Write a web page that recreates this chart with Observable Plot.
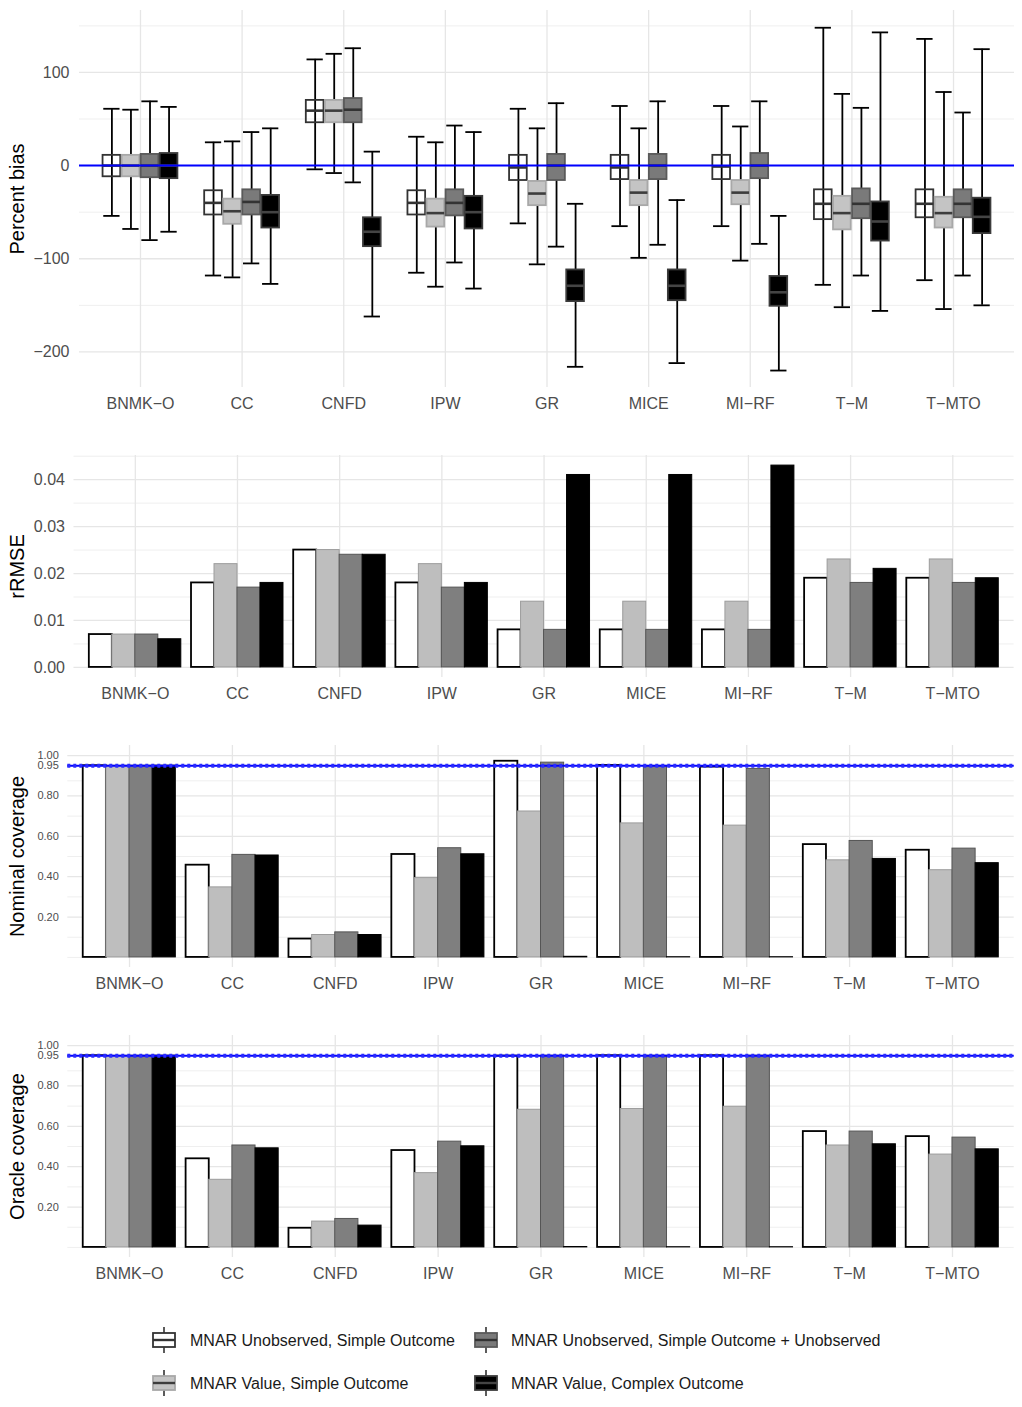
<!DOCTYPE html>
<html><head><meta charset="utf-8">
<script src="https://cdn.jsdelivr.net/npm/d3@7"></script>
<script src="https://cdn.jsdelivr.net/npm/@observablehq/plot@0.6"></script>
<style>
body{margin:0;background:#fff;font-family:"Liberation Sans",Arial,sans-serif}
#chart{width:1022px}
#chart svg{display:block}
</style></head><body><div id="chart"></div>
<script>
// ---------- data ----------
const methods = ["BNMK−O","CC","CNFD","IPW","GR","MICE","MI−RF","T−M","T−MTO"];
const scenarios = [
  "MNAR Unobserved, Simple Outcome",
  "MNAR Value, Simple Outcome",
  "MNAR Unobserved, Simple Outcome + Unobserved",
  "MNAR Value, Complex Outcome"
];
// percent bias boxplot statistics, one row per method, one value per scenario
const biasWhiskerHigh = [[61,60,69,63],[25,26,36,40],[114,120,126,15],[31,25,43,36],[61,40,67,-41],[64,40,69,-37],[64,42,69,-54],[148,77,62,143],[136,79,57,125]];
const biasQ3 = [[11,11,12,13],[-27,-36,-26,-32],[70,70,72,-56],[-27,-36,-26,-33],[11,-17,12,-112],[11,-16,12,-112],[11,-16,13,-119],[-26,-33,-25,-39],[-26,-34,-26,-35]];
const biasMedian = [[0,0,0,0],[-40,-49,-39,-50],[59,59,60,-71],[-40,-51,-40,-50],[-2,-30,0,-129],[-2,-29,0,-129],[-1,-29,0,-136],[-41,-51,-41,-60],[-41,-51,-41,-55]];
const biasQ1 = [[-12,-12,-13,-14],[-53,-63,-53,-67],[46,46,46,-87],[-53,-66,-54,-68],[-16,-43,-16,-146],[-15,-43,-15,-145],[-15,-42,-14,-151],[-58,-69,-57,-81],[-56,-67,-56,-73]];
const biasWhiskerLow = [[-54,-68,-80,-71],[-118,-120,-105,-127],[-4,-8,-18,-162],[-115,-130,-104,-132],[-62,-106,-87,-216],[-65,-99,-85,-212],[-65,-102,-84,-220],[-128,-152,-118,-156],[-123,-154,-118,-150]];
const rrmse = [[0.007,0.007,0.007,0.006],[0.018,0.022,0.017,0.018],[0.025,0.025,0.024,0.024],[0.018,0.022,0.017,0.018],[0.008,0.014,0.008,0.041],[0.008,0.014,0.008,0.041],[0.008,0.014,0.008,0.043],[0.019,0.023,0.018,0.021],[0.019,0.023,0.018,0.019]];
const nominalCoverage = [[0.95,0.95,0.95,0.95],[0.457,0.347,0.508,0.505],[0.091,0.111,0.124,0.111],[0.51,0.393,0.541,0.511],[0.972,0.723,0.965,0.003],[0.951,0.664,0.949,0.001],[0.943,0.653,0.934,0.001],[0.559,0.481,0.577,0.488],[0.531,0.432,0.539,0.467]];
const oracleCoverage = [[0.95,0.95,0.95,0.95],[0.439,0.335,0.505,0.491],[0.095,0.128,0.141,0.108],[0.48,0.368,0.524,0.501],[0.948,0.682,0.95,0.002],[0.95,0.686,0.95,0.001],[0.95,0.697,0.95,0.001],[0.574,0.505,0.574,0.511],[0.549,0.46,0.544,0.486]];
// tick values
const biasTicks = [-200,-100,0,100];
const biasMinor = [-150,-50,50,150];
const rmseTicks = [0,0.01,0.02,0.03,0.04];
const rmseMinor = [0.005,0.015,0.025,0.035,0.045];
const covTicks = [0.2,0.4,0.6,0.8,0.95,1.0];
const covMinor = [0,0.1,0.3,0.5,0.7,0.875];
const covTarget = [0.95];

// ---------- styles ----------
const boxFill   = ["none","#c4c4c4","#7a7a7a","#000000"];
const boxStroke = ["#333333","#a8a8a8","#5a5a5a","#3c3c3c"];
const medStroke = ["#333333","#3d3d3d","#333333","#444444"];
const barFill   = ["#ffffff","#bebebe","#7f7f7f","#000000"];
const barStroke = ["#000000","#9c9c9c","#555555","#000000"];
const barStrokeW = [1.8,1,1,1];
const FONT = "Liberation Sans, Arial, Helvetica, sans-serif";

// ---------- table ----------
const rows = [];
methods.forEach((m, i) => scenarios.forEach((s, j) => {
  const boxC = i - 0.375 + (j + 0.5) * 0.1875;   // dodge width 0.75
  const barL = i - 0.45 + j * 0.225;             // dodge width 0.9
  rows.push({
    method: m, i, scenario: s, j,
    boxC, boxL: boxC - 0.087, boxR: boxC + 0.087, capL: boxC - 0.08, capR: boxC + 0.08,
    barL, barR: barL + 0.225,
    hi: biasWhiskerHigh[i][j], q3: biasQ3[i][j], med: biasMedian[i][j], q1: biasQ1[i][j], lo: biasWhiskerLow[i][j],
    rmse: rrmse[i][j], nominal: nominalCoverage[i][j], oracle: oracleCoverage[i][j]
  });
}));
const idx = methods.map((m, i) => i);

const gridMarks = (major, minor) => [
  Plot.ruleY(minor, {stroke: "#efefef", strokeWidth: 1}),
  Plot.ruleY(major, {stroke: "#e6e6e6", strokeWidth: 1.3}),
  Plot.ruleX(idx, {stroke: "#e6e6e6", strokeWidth: 1.3})
];
const xAxis = () => Plot.axisX({ticks: idx, tickFormat: i => methods[i], tickSize: 0, tickPadding: 10, fontSize: 16, label: null});
const yTitle = (t, off) => Plot.text([t], {frameAnchor: "left", rotate: -90, dx: -off, fontSize: 20, fill: "#000", textAnchor: "middle", lineAnchor: "middle"});
const baseStyle = {fontFamily: FONT, fontSize: "16px", color: "#4d4d4d", background: "white", overflow: "visible"};

const chart = document.getElementById("chart");

// ---------- panel 1 : percent bias ----------
chart.appendChild(Plot.plot({
  width: 1022, height: 420,
  marginTop: 10, marginBottom: 33, marginLeft: 79, marginRight: 8,
  style: baseStyle,
  color: {type: "identity"},
  x: {domain: [-0.6, 8.6], label: null},
  y: {domain: [-238.2, 166.5], label: null},
  marks: [
    ...gridMarks(biasTicks, biasMinor),
    Plot.ruleX(rows, {x: "boxC", y1: "lo", y2: "hi", stroke: "#000", strokeWidth: 1.8}),
    Plot.ruleY(rows, {x1: "capL", x2: "capR", y: "hi", stroke: "#000", strokeWidth: 1.8}),
    Plot.ruleY(rows, {x1: "capL", x2: "capR", y: "lo", stroke: "#000", strokeWidth: 1.8}),
    Plot.rect(rows, {x1: "boxL", x2: "boxR", y1: "q1", y2: "q3", fill: d => boxFill[d.j], stroke: d => boxStroke[d.j], strokeWidth: 1.8}),
    Plot.ruleY(rows, {x1: "boxL", x2: "boxR", y: "med", stroke: d => medStroke[d.j], strokeWidth: 2.6}),
    Plot.ruleY([0], {stroke: "#0000ff", strokeWidth: 2}),
    Plot.axisY({ticks: biasTicks, tickFormat: d3.format("d"), tickSize: 0, tickPadding: 10, fontSize: 16, label: null}),
    xAxis(),
    yTitle("Percent bias", 62)
  ]
}));

// ---------- panel 2 : rRMSE ----------
chart.appendChild(Plot.plot({
  width: 1022, height: 290,
  marginTop: 35, marginBottom: 33, marginLeft: 73.5, marginRight: 8.4,
  style: baseStyle,
  color: {type: "identity"},
  x: {domain: [-0.6, 8.6], label: null},
  y: {domain: [-0.00215, 0.04515], label: null},
  marks: [
    ...gridMarks(rmseTicks, rmseMinor),
    Plot.rect(rows, {x1: "barL", x2: "barR", y1: 0, y2: "rmse", fill: d => barFill[d.j], stroke: d => barStroke[d.j], strokeWidth: d => barStrokeW[d.j]}),
    Plot.axisY({ticks: rmseTicks, tickFormat: d3.format(".2f"), tickSize: 0, tickPadding: 9, fontSize: 16, label: null}),
    xAxis(),
    yTitle("rRMSE", 56.5)
  ]
}));

// ---------- panels 3 & 4 : coverage ----------
function coveragePanel(field, title) {
  return Plot.plot({
    width: 1022, height: 290,
    marginTop: 35, marginBottom: 33, marginLeft: 67.3, marginRight: 8.3,
    style: baseStyle,
    color: {type: "identity"},
    x: {domain: [-0.6, 8.6], label: null},
    y: {domain: [-0.05, 1.05], label: null},
    marks: [
      ...gridMarks(covTicks, covMinor),
      Plot.rect(rows, {x1: "barL", x2: "barR", y1: 0, y2: field, fill: d => barFill[d.j], stroke: d => barStroke[d.j], strokeWidth: d => barStrokeW[d.j]}),
      Plot.ruleY(covTarget, {stroke: "#0000ff", strokeWidth: 2}),
      Plot.ruleY(covTarget, {stroke: "#2b2bff", strokeWidth: 4, strokeDasharray: "3,3"}),
      Plot.axisY({ticks: covTicks, tickFormat: d3.format(".2f"), tickSize: 0, tickPadding: 9, fontSize: 11, label: null}),
      xAxis(),
      yTitle(title, 50.3)
    ]
  });
}
chart.appendChild(coveragePanel("nominal", "Nominal coverage"));
chart.appendChild(coveragePanel("oracle", "Oracle coverage"));

// ---------- legend ----------
const legendPos = [
  {kx: 164, tx: 190, y: 50},
  {kx: 164, tx: 190, y: 93},
  {kx: 486, tx: 511, y: 50},
  {kx: 486, tx: 511, y: 93}
];
const legendFill = ["#ffffff","#c4c4c4","#7a7a7a","#000000"];
const leg = d3.create("svg").attr("width", 1022).attr("height", 117)
  .style("font-family", FONT).style("display", "block");
scenarios.forEach((s, j) => {
  const p = legendPos[j];
  const g = leg.append("g");
  g.append("line").attr("x1", p.kx).attr("x2", p.kx).attr("y1", p.y - 13).attr("y2", p.y + 13)
    .attr("stroke", "#333").attr("stroke-width", 1.6);
  g.append("rect").attr("x", p.kx - 11).attr("y", p.y - 7).attr("width", 22).attr("height", 14)
    .attr("fill", legendFill[j]).attr("stroke", boxStroke[j]).attr("stroke-width", 1.8);
  g.append("line").attr("x1", p.kx - 11).attr("x2", p.kx + 11).attr("y1", p.y).attr("y2", p.y)
    .attr("stroke", medStroke[j]).attr("stroke-width", 2.4);
  g.append("text").attr("x", p.tx).attr("y", p.y).attr("dy", "0.35em")
    .attr("font-size", 16).attr("fill", "#1a1a1a").text(s);
});
chart.appendChild(leg.node());
</script>
</body></html>
